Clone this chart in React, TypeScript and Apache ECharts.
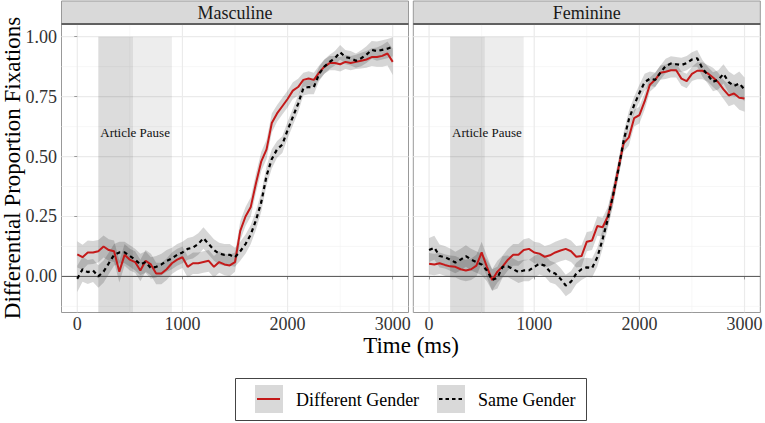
import React, { useEffect, useRef } from "react";
import * as echarts from "echarts";

// ---------------- data ----------------
const time = [
  0, 50, 100, 150, 200, 250, 300, 350, 400, 450,
  500, 550, 600, 650, 700, 750, 800, 850, 900, 950,
  1000, 1050, 1100, 1150, 1200, 1250, 1300, 1350, 1400, 1450,
  1500, 1550, 1600, 1650, 1700, 1750, 1800, 1850, 1900, 1950,
  2000, 2050, 2100, 2150, 2200, 2250, 2300, 2350, 2400, 2450,
  2500, 2550, 2600, 2650, 2700, 2750, 2800, 2850, 2900, 2950, 3000,
];

const panels = ["Masculine", "Feminine"];
const seriesNames = ["Different Gender", "Same Gender"];

// Masculine panel
const mascDifferent = [
  0.092, 0.08, 0.10, 0.10, 0.105, 0.125, 0.11, 0.105, 0.02, 0.09,
  0.07, 0.06, 0.025, 0.065, 0.05, 0.012, 0.012, 0.03, 0.055, 0.07,
  0.08, 0.04, 0.055, 0.055, 0.06, 0.065, 0.04, 0.06, 0.05, 0.046,
  0.06, 0.19, 0.25, 0.29, 0.39, 0.48, 0.53, 0.64, 0.68, 0.71,
  0.74, 0.775, 0.79, 0.82, 0.826, 0.82, 0.85, 0.875, 0.89, 0.89,
  0.885, 0.895, 0.89, 0.895, 0.90, 0.905, 0.915, 0.915, 0.92, 0.93, 0.895,
];
const mascSame = [
  -0.01, 0.03, 0.018, 0.025, 0.0, 0.02, 0.055, 0.09, 0.10, 0.10,
  0.085, 0.07, 0.05, 0.06, 0.035, 0.04, 0.05, 0.065, 0.075, 0.09,
  0.10, 0.115, 0.12, 0.135, 0.16, 0.135, 0.11, 0.095, 0.09, 0.09,
  0.08, 0.105, 0.135, 0.175, 0.235, 0.31, 0.42, 0.49, 0.53, 0.55,
  0.61, 0.665, 0.72, 0.785, 0.79, 0.79, 0.845, 0.875, 0.895, 0.91,
  0.935, 0.915, 0.91, 0.90, 0.91, 0.925, 0.945, 0.94, 0.945, 0.95, 0.958,
];

// Feminine panel
const femDifferent = [
  0.053, 0.05, 0.055, 0.048, 0.042, 0.04, 0.03, 0.025, 0.03, 0.045,
  0.10, 0.04, -0.015, 0.02, 0.042, 0.07, 0.09, 0.09, 0.11, 0.115,
  0.10, 0.095, 0.082, 0.088, 0.10, 0.108, 0.115, 0.105, 0.082, 0.085,
  0.145, 0.15, 0.21, 0.205, 0.25, 0.335, 0.45, 0.555, 0.58, 0.66,
  0.673, 0.73, 0.80, 0.82, 0.85, 0.854, 0.86, 0.86, 0.825, 0.815,
  0.845, 0.858, 0.858, 0.847, 0.83, 0.81, 0.78, 0.755, 0.763, 0.745, 0.742,
];
const femSame = [
  0.11, 0.12, 0.085, 0.08, 0.07, 0.058, 0.07, 0.085, 0.07, 0.06,
  0.05, 0.025, -0.015, -0.005, 0.04, 0.042, 0.03, 0.018, 0.025, 0.025,
  0.04, 0.053, 0.045, 0.02, 0.012, -0.01, -0.038, -0.022, 0.012, 0.03,
  0.038, 0.035, 0.08, 0.155, 0.24, 0.34, 0.445, 0.565, 0.655, 0.715,
  0.765, 0.81, 0.825, 0.82, 0.85, 0.878, 0.888, 0.885, 0.882, 0.89,
  0.905, 0.91, 0.868, 0.84, 0.812, 0.82, 0.845, 0.81, 0.795, 0.805, 0.78,
];

// ribbon half-widths (confidence band)
const mascDifferentCI = [
  0.055, 0.052, 0.05, 0.048, 0.047, 0.046, 0.045, 0.045, 0.045, 0.045,
  0.045, 0.045, 0.045, 0.045, 0.045, 0.045, 0.045, 0.045, 0.045, 0.045,
  0.045, 0.045, 0.045, 0.045, 0.045, 0.045, 0.045, 0.045, 0.045, 0.045,
  0.04, 0.04, 0.04, 0.04, 0.04, 0.04, 0.04, 0.04, 0.035, 0.035,
  0.035, 0.035, 0.035, 0.03, 0.03, 0.03, 0.03, 0.03, 0.03, 0.03,
  0.03, 0.03, 0.03, 0.03, 0.033, 0.035, 0.037, 0.04, 0.045, 0.05, 0.055,
];
const mascSameCI = [
  0.055, 0.052, 0.05, 0.048, 0.047, 0.046, 0.045, 0.045, 0.045, 0.045,
  0.045, 0.045, 0.045, 0.045, 0.045, 0.045, 0.045, 0.045, 0.045, 0.045,
  0.045, 0.045, 0.045, 0.045, 0.045, 0.045, 0.045, 0.045, 0.045, 0.045,
  0.04, 0.04, 0.04, 0.04, 0.04, 0.04, 0.04, 0.04, 0.035, 0.035,
  0.035, 0.035, 0.035, 0.03, 0.03, 0.03, 0.03, 0.03, 0.03, 0.03,
  0.03, 0.03, 0.03, 0.03, 0.033, 0.035, 0.037, 0.04, 0.04, 0.04, 0.04,
];
const femDifferentCI = [
  0.045, 0.045, 0.045, 0.045, 0.045, 0.045, 0.045, 0.045, 0.045, 0.045,
  0.045, 0.045, 0.045, 0.045, 0.045, 0.045, 0.045, 0.045, 0.045, 0.045,
  0.045, 0.045, 0.045, 0.045, 0.045, 0.045, 0.045, 0.045, 0.045, 0.045,
  0.04, 0.04, 0.04, 0.04, 0.04, 0.04, 0.035, 0.035, 0.035, 0.035,
  0.035, 0.035, 0.03, 0.03, 0.03, 0.03, 0.03, 0.03, 0.03, 0.03,
  0.03, 0.035, 0.035, 0.035, 0.04, 0.04, 0.04, 0.045, 0.045, 0.05, 0.055,
];
const femSameCI = [
  0.05, 0.05, 0.048, 0.047, 0.046, 0.045, 0.045, 0.045, 0.045, 0.045,
  0.045, 0.045, 0.045, 0.045, 0.045, 0.045, 0.045, 0.045, 0.045, 0.045,
  0.045, 0.045, 0.045, 0.045, 0.045, 0.045, 0.045, 0.045, 0.045, 0.045,
  0.04, 0.04, 0.04, 0.04, 0.04, 0.04, 0.035, 0.035, 0.035, 0.035,
  0.035, 0.035, 0.03, 0.03, 0.03, 0.03, 0.03, 0.03, 0.03, 0.03,
  0.03, 0.035, 0.035, 0.035, 0.04, 0.04, 0.04, 0.045, 0.045, 0.05, 0.05,
];

// axes / annotation
const xTicks = [0, 1000, 2000, 3000];
const xTickLabels = ["0", "1000", "2000", "3000"];
const xMinor = [500, 1500, 2500];
const yTicks = [0, 0.25, 0.5, 0.75, 1.0];
const yMinor = [-0.125, 0.125, 0.375, 0.625, 0.875];
const yTickLabels = ["0.00", "0.25", "0.50", "0.75", "1.00"];
const pauseSpans = [
  [200, 900],
  [200, 530],
];
const pauseTop = 1.0;
const pauseLabel = "Article Pause";
const pauseLabelPos = [550, 0.6];
const xTitle = "Time (ms)";
const yTitle = "Differential Proportion Fixations";

// ---------------- styling ----------------
const FONT = "Liberation Serif";
const RED = "#c41a1a";
const GRID_LEFT = [61.5, 413.3];
const GRID_TOP = 24;
const GRID_W = 347;
const GRID_H = 288.5;

function gridLines(g: number, values: number[], dir: "v" | "h", color: string, width: number, z: number) {
  return {
    type: "custom",
    xAxisIndex: g,
    yAxisIndex: g,
    z,
    silent: true,
    clip: true,
    data: values.map((v) => (dir === "v" ? [v, 0] : [0, v])),
    renderItem: (params: any, api: any) => {
      const cs = params.coordSys;
      if (dir === "v") {
        const x = api.coord([api.value(0), 0])[0];
        return {
          type: "line",
          shape: { x1: x, y1: cs.y, x2: x, y2: cs.y + cs.height },
          style: { stroke: color, lineWidth: width },
        };
      }
      const y = api.coord([0, api.value(1)])[1];
      return {
        type: "line",
        shape: { x1: cs.x, y1: y, x2: cs.x + cs.width, y2: y },
        style: { stroke: color, lineWidth: width },
      };
    },
  };
}

// tick labels placed through the axis scale
function tickLabels(g: number, values: number[], labels: string[], dir: "x" | "y") {
  return {
    type: "custom",
    xAxisIndex: g,
    yAxisIndex: g,
    z: 7,
    silent: true,
    clip: false,
    data: values.map((v, i) => (dir === "x" ? [v, 0, i] : [0, v, i])),
    renderItem: (params: any, api: any) => {
      const cs = params.coordSys;
      const label = labels[api.value(2)];
      if (dir === "x") {
        const x = api.coord([api.value(0), 0])[0];
        return {
          type: "text",
          x,
          y: cs.y + cs.height + 2.5,
          style: { text: label, fontSize: 18, fontFamily: FONT, fill: "#333", align: "center", verticalAlign: "top" },
        };
      }
      const y = api.coord([0, api.value(1)])[1];
      return {
        type: "text",
        x: cs.x - 4.5,
        y,
        style: { text: label, fontSize: 18, fontFamily: FONT, fill: "#333", align: "right", verticalAlign: "middle" },
      };
    },
  };
}

function shading(g: number) {
  return {
    type: "custom",
    xAxisIndex: g,
    yAxisIndex: g,
    z: 1,
    silent: true,
    clip: true,
    data: pauseSpans.map((s) => [s[0], pauseTop, s[1]]),
    renderItem: (params: any, api: any) => {
      const cs = params.coordSys;
      const p1 = api.coord([api.value(0), api.value(1)]);
      const p2 = api.coord([api.value(2), api.value(1)]);
      return {
        type: "rect",
        shape: { x: p1[0], y: p1[1], width: p2[0] - p1[0], height: cs.y + cs.height - p1[1] },
        style: { fill: "rgba(0,0,0,0.07)" },
      };
    },
  };
}

function pauseText(g: number) {
  return {
    type: "custom",
    xAxisIndex: g,
    yAxisIndex: g,
    z: 6,
    silent: true,
    data: [pauseLabelPos],
    renderItem: (params: any, api: any) => {
      const p = api.coord([api.value(0), api.value(1)]);
      return {
        type: "text",
        x: p[0],
        y: p[1],
        style: {
          text: pauseLabel,
          fill: "#111",
          fontSize: 13,
          fontFamily: FONT,
          align: "center",
          verticalAlign: "middle",
        },
      };
    },
  };
}

function ribbon(g: number, mean: number[], ci: number[]) {
  return {
    type: "custom",
    xAxisIndex: g,
    yAxisIndex: g,
    z: 2,
    silent: true,
    clip: true,
    data: [[time[0], mean[0]]],
    renderItem: (params: any, api: any) => {
      const upper = time.map((t, i) => api.coord([t, mean[i] + ci[i]]));
      const lower = time.map((t, i) => api.coord([t, mean[i] - ci[i]])).reverse();
      return {
        type: "polygon",
        shape: { points: upper.concat(lower) },
        style: { fill: "rgba(0,0,0,0.16)" },
      };
    },
  };
}

function line(g: number, name: string, mean: number[], dashed: boolean) {
  return {
    type: "line",
    name,
    xAxisIndex: g,
    yAxisIndex: g,
    z: dashed ? 5 : 4,
    symbol: "none",
    silent: true,
    data: time.map((t, i) => [t, mean[i]]),
    lineStyle: dashed
      ? { color: "#000", width: 2.2, type: [4, 3.5] }
      : { color: RED, width: 2 },
  };
}

export default function App() {
  const ref = useRef<HTMLDivElement>(null);
  useEffect(() => {
    if (!ref.current) return;
    const chart = echarts.init(ref.current, null, { renderer: "svg" });
    const means = [
      [mascDifferent, mascSame],
      [femDifferent, femSame],
    ];
    const cis = [
      [mascDifferentCI, mascSameCI],
      [femDifferentCI, femSameCI],
    ];
    const series: any[] = [];
    [0, 1].forEach((g) => {
      series.push(gridLines(g, xMinor, "v", "#f3f3f3", 0.7, 0));
      series.push(gridLines(g, yMinor, "h", "#f3f3f3", 0.7, 0));
      series.push(gridLines(g, xTicks, "v", "#ebebeb", 1.2, 0));
      series.push(gridLines(g, yTicks, "h", "#ebebeb", 1.2, 0));
      series.push(shading(g));
      series.push(ribbon(g, means[g][0], cis[g][0]));
      series.push(ribbon(g, means[g][1], cis[g][1]));
      series.push(gridLines(g, [0], "h", "#555", 1, 3));
      series.push(line(g, seriesNames[0], means[g][0], false));
      series.push(line(g, seriesNames[1], means[g][1], true));
      series.push(pauseText(g));
      series.push(tickLabels(g, xTicks, xTickLabels, "x"));
      if (g === 0) series.push(tickLabels(g, yTicks, yTickLabels, "y"));
    });

    const grid = [0, 1].map((g) => ({
      left: GRID_LEFT[g],
      top: GRID_TOP,
      width: GRID_W,
      height: GRID_H,
      show: true,
      borderColor: "#999",
      borderWidth: 1,
      backgroundColor: "transparent",
      containLabel: false,
    }));

    const xAxis = [0, 1].map((g) => ({
      type: "value",
      gridIndex: g,
      min: -150,
      max: 3150,
      axisLine: { show: false },
      splitLine: { show: false },
      axisTick: { show: true, customValues: xTicks, length: 3, lineStyle: { color: "#999" } },
      axisLabel: { show: false, customValues: xTicks },
    }));

    const yAxis = [0, 1].map((g) => ({
      type: "value",
      gridIndex: g,
      min: -0.1505,
      max: 1.053,
      axisLine: { show: false },
      splitLine: { show: false },
      axisTick: { show: g === 0, customValues: yTicks, length: 3, lineStyle: { color: "#999" } },
      axisLabel: { show: false, customValues: yTicks },
    }));

    const graphic: any[] = [];
    [0, 1].forEach((g) => {
      graphic.push({
        type: "rect",
        shape: { x: GRID_LEFT[g], y: 1, width: GRID_W, height: GRID_TOP - 1 },
        style: { fill: "#d9d9d9", stroke: "#999", lineWidth: 1 },
        z: 10,
      });
      graphic.push({
        type: "line",
        shape: { x1: GRID_LEFT[g], y1: GRID_TOP, x2: GRID_LEFT[g] + GRID_W, y2: GRID_TOP },
        style: { stroke: "#444", lineWidth: 1.3 },
        z: 11,
      });
      graphic.push({
        type: "text",
        x: GRID_LEFT[g] + GRID_W / 2,
        y: 12.5,
        z: 12,
        style: { text: panels[g], fontSize: 18, fontFamily: FONT, fill: "#1a1a1a", align: "center", verticalAlign: "middle" },
      });
    });
    // axis titles
    graphic.push({
      type: "text",
      x: 411,
      y: 345.5,
      style: { text: xTitle, fontSize: 23, fontFamily: FONT, fill: "#000", align: "center", verticalAlign: "middle" },
    });
    graphic.push({
      type: "text",
      x: 12,
      y: 168,
      rotation: Math.PI / 2,
      style: { text: yTitle, fontSize: 23, fontFamily: FONT, fill: "#000", align: "center", verticalAlign: "middle" },
    });
    // legend
    graphic.push({
      type: "rect",
      shape: { x: 235.5, y: 378.5, width: 351, height: 42 },
      style: { fill: "#fff", stroke: "#444", lineWidth: 1 },
    });
    const keyX = [255, 437];
    const textX = [296, 478];
    [0, 1].forEach((k) => {
      graphic.push({
        type: "rect",
        shape: { x: keyX[k], y: 385, width: 28, height: 28 },
        style: { fill: "#d9d9d9" },
      });
      graphic.push({
        type: "line",
        shape: { x1: keyX[k] + 2, y1: 399, x2: keyX[k] + 25, y2: 399 },
        style: k === 0
          ? { stroke: RED, lineWidth: 2 }
          : { stroke: "#000", lineWidth: 2, lineDash: [3.5, 3] },
      });
      graphic.push({
        type: "text",
        x: textX[k],
        y: 399.5,
        style: { text: seriesNames[k], fontSize: 18, fontFamily: FONT, fill: "#000", align: "left", verticalAlign: "middle" },
      });
    });

    chart.setOption({
      animation: false,
      textStyle: { fontFamily: FONT },
      grid,
      xAxis,
      yAxis,
      series,
      graphic,
    });
    return () => chart.dispose();
  }, []);
  return (
    <div
      ref={ref}
      style={{ position: "absolute", left: 0, top: 0, width: 765, height: 423, background: "#fff" }}
    />
  );
}
